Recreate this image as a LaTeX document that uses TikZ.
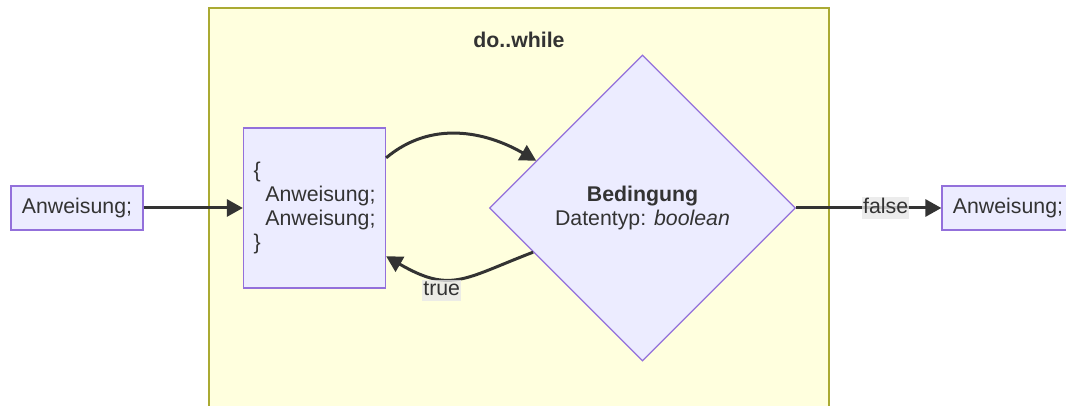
\documentclass[tikz,border=0pt]{standalone}
\usepackage{fontspec}
\setmainfont{Liberation Sans}
\usetikzlibrary{shapes.geometric,arrows.meta}
\definecolor{nodefill}{HTML}{ECECFF}
\definecolor{nodestroke}{HTML}{9370DB}
\definecolor{clusterfill}{HTML}{FFFFDE}
\definecolor{clusterstroke}{HTML}{AAAA33}
\definecolor{edgec}{HTML}{333333}
\definecolor{textc}{HTML}{333333}
\definecolor{labelbg}{HTML}{E8E8E8}
\begin{document}
\begin{tikzpicture}[x=1pt,y=1pt,
  txt/.style={font=\fontsize{21.3pt}{24pt}\selectfont, text=textc},
  box/.style={txt, draw=nodestroke, fill=nodefill, line width=1.3pt},
  cluster/.style={draw=clusterstroke, fill=clusterfill, line width=1.3pt},
  flow/.style={draw=edgec, line width=3pt, -{Triangle[length=16pt,width=17pt]}},
  lbl/.style={txt, fill=labelbg, fill opacity=0.8, text opacity=1, inner xsep=1pt, inner ysep=1pt, text height=15pt, text depth=4.5pt}
]
\useasboundingbox (0,0) rectangle (1066,-406);
\clip (0,0) rectangle (1066,-406);
\fill[white] (0,0) rectangle (1066,-406);

% cluster
\node[cluster, minimum width=620pt, minimum height=400pt, inner sep=0pt] (clu) at (519,-208) {};
\node[txt, font=\fontsize{21.3pt}{24pt}\selectfont\bfseries] (title) at (519,-40) {do..while};

% nodes
\node[box, minimum width=132pt, minimum height=44pt, inner sep=0pt] (a1) at (77,-208) {Anweisung;};
\node[box, minimum width=142pt, minimum height=160pt, inner sep=0pt, align=left] (block) at (314.5,-208)
  {\{\\\hspace*{11.8pt}Anweisung;\\\hspace*{11.8pt}Anweisung;\\\}};
\node[box, shape=diamond, aspect=1, minimum width=306pt, minimum height=306pt, inner sep=0pt, align=center] (cond) at (642.5,-208)
  {\textbf{Bedingung}\\Datentyp: \textit{boolean}};
\node[box, minimum width=132pt, minimum height=44pt, inner sep=0pt] (a2) at (1008,-208) {Anweisung;};

% edges
\draw[flow] (a1) -- (block);
\draw[flow] (block.35.7) to[out=40, in=150] (cond.156);
\draw[flow] (cond.202) to[out=201, in=-30, looseness=1.3]
  node[lbl, pos=0.5, anchor=north, xshift=-16pt] (ltrue) {true} (block.326.5);
\draw[flow] (cond) -- node[lbl, pos=0.616] (lfalse) {false} (a2);
\end{tikzpicture}
\end{document}
